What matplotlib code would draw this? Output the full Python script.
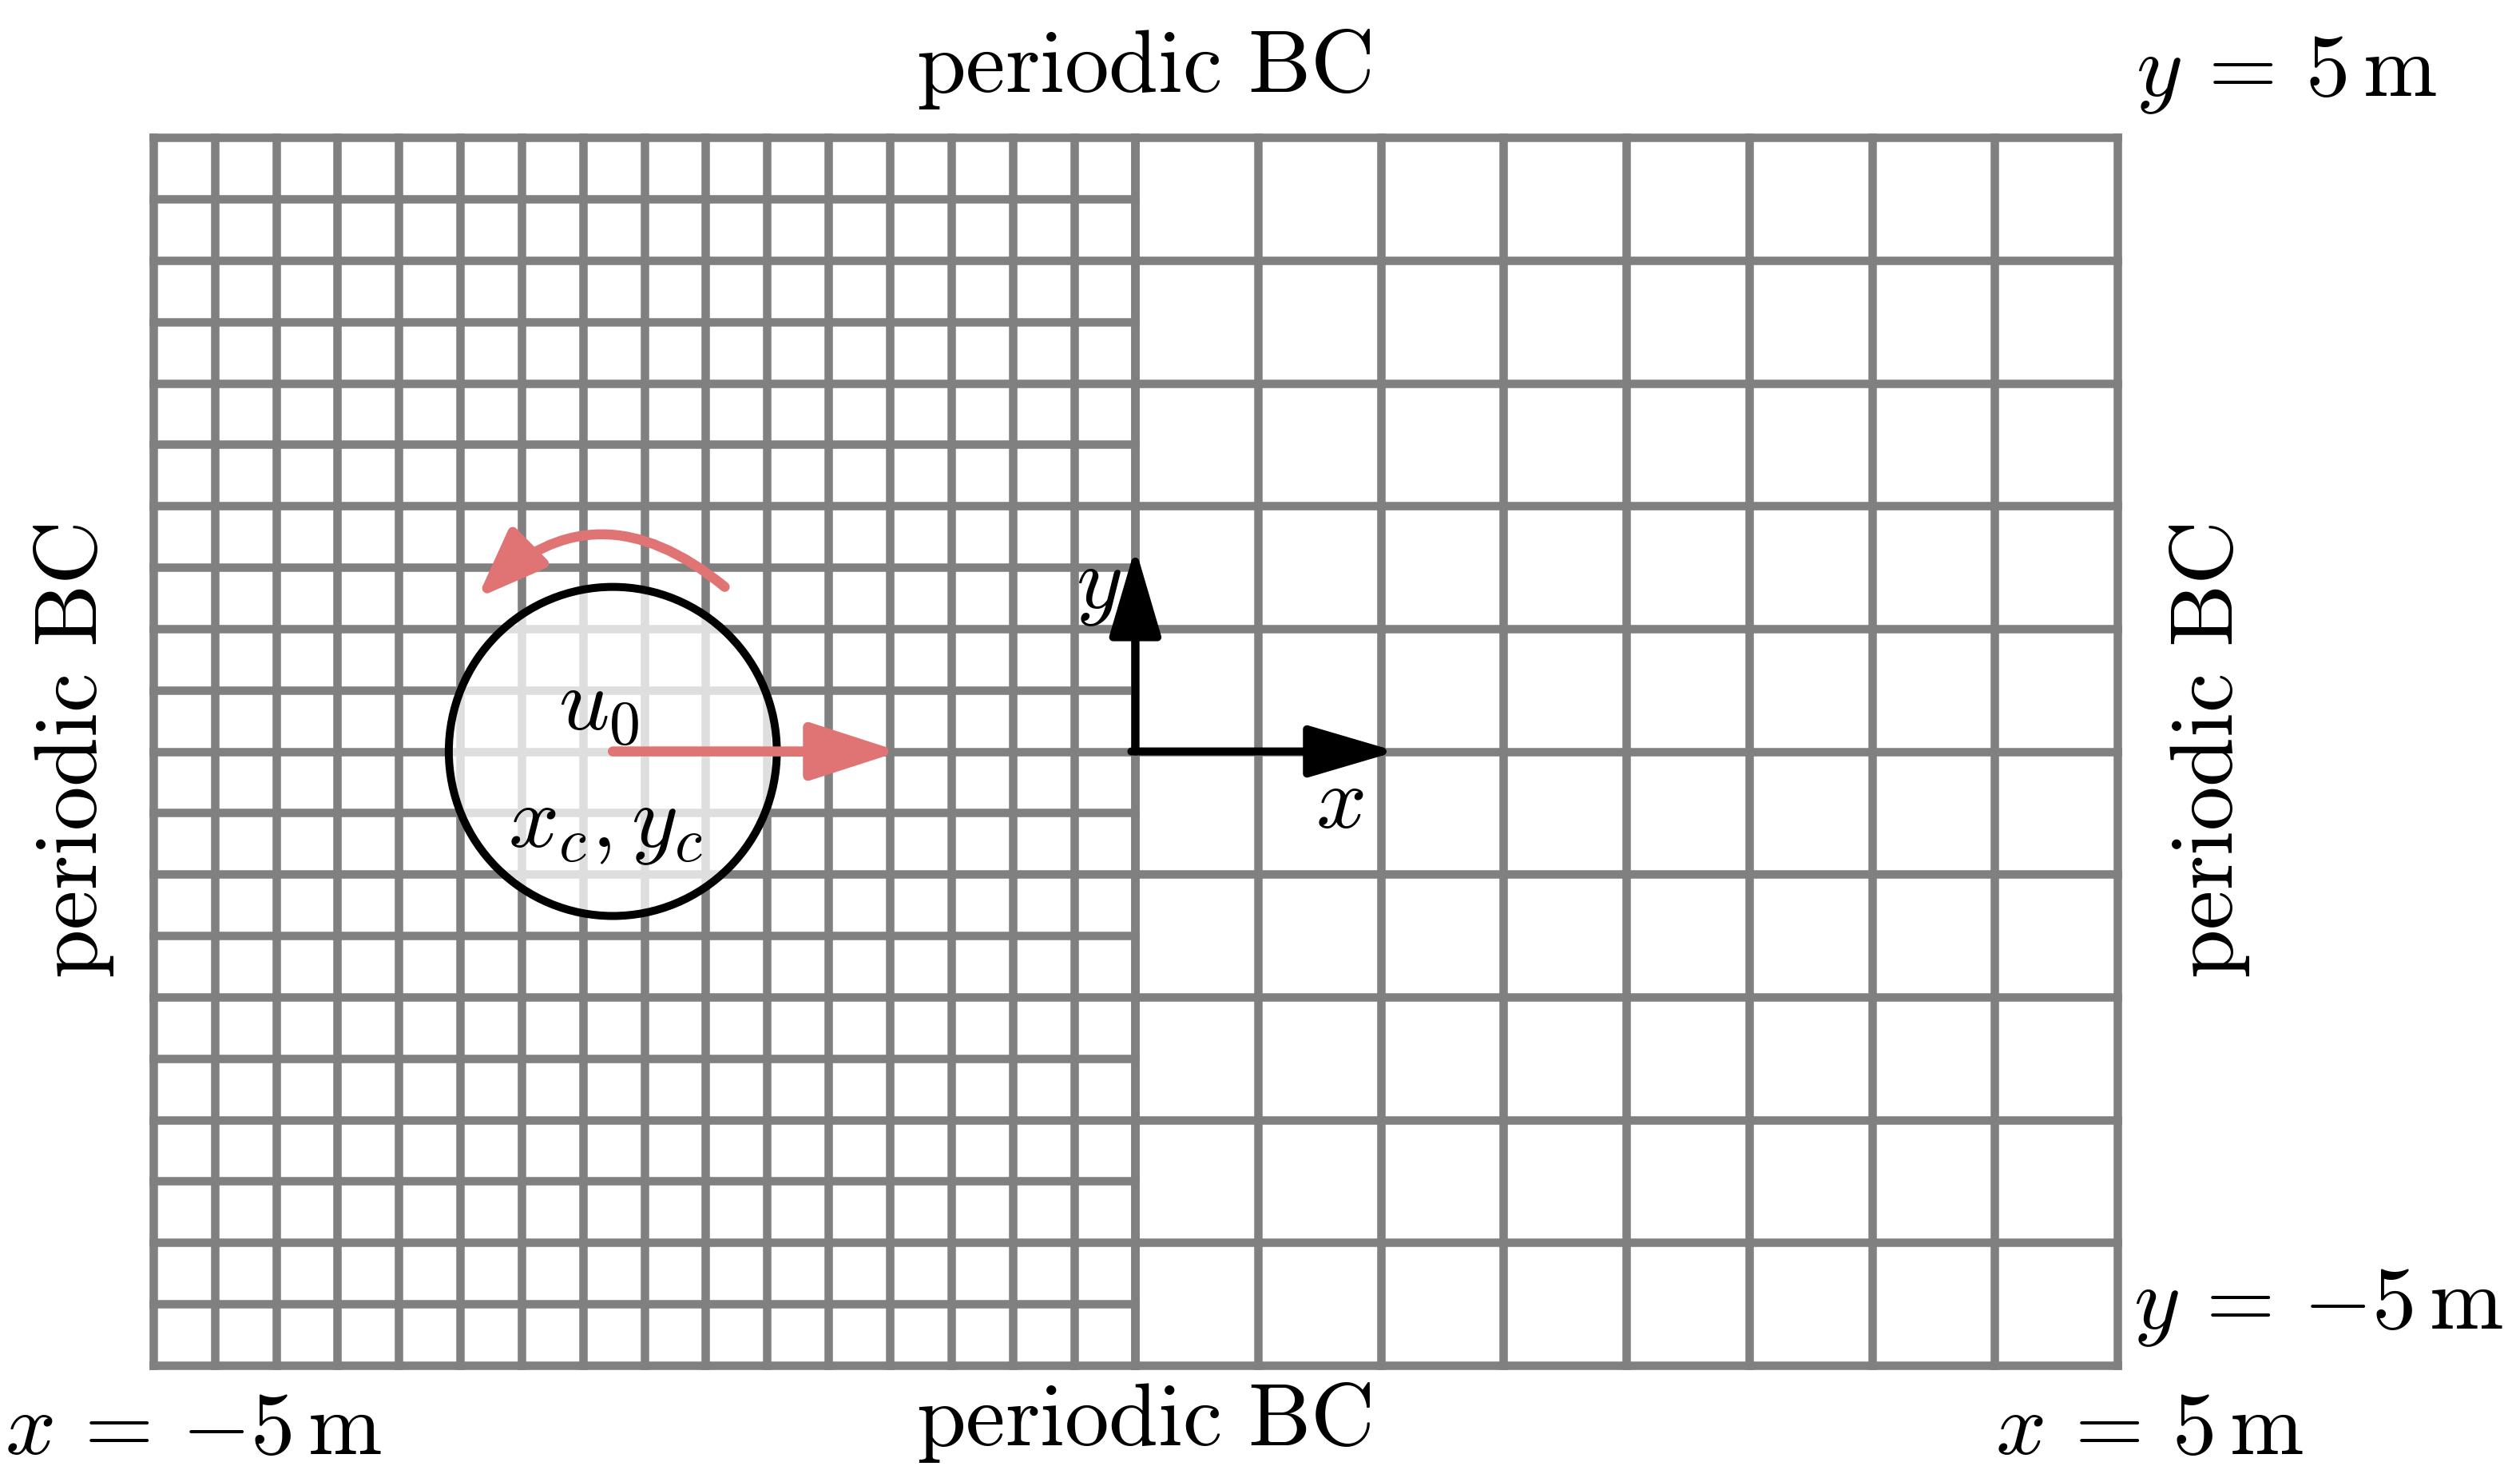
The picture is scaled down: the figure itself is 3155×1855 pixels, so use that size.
import matplotlib
matplotlib.use("Agg")
import matplotlib.pyplot as plt
from matplotlib.patches import Ellipse, FancyArrowPatch
import numpy as np

plt.rcParams['mathtext.fontset'] = 'cm'

fine_x = np.linspace(-5, 0, 17)
coarse_x = np.linspace(0, 5, 9)
fine_y = np.linspace(-5, 5, 21)
coarse_y = np.linspace(-5, 5, 11)
circle_center = (-2.66, 0.0)
u0_tip = -1.2

fig = plt.figure(figsize=(15.775, 9.275), dpi=200)
ax = fig.add_axes([0, 0, 1, 1])
ax.set_xlim(-5.78, 7.05)
ax.set_ylim(-5.95, 6.12)
ax.axis('off')

g = '#808080'; lw = 3.8
for x in fine_x:
    ax.plot([x, x], [-5, 5], color=g, lw=lw, solid_capstyle='projecting')
for x in coarse_x:
    ax.plot([x, x], [-5, 5], color=g, lw=lw, solid_capstyle='projecting')
for y in fine_y:
    ax.plot([-5, 0], [y, y], color=g, lw=lw, solid_capstyle='projecting')
for y in coarse_y:
    ax.plot([0, 5], [y, y], color=g, lw=lw, solid_capstyle='projecting')

cx, cy = circle_center
ax.add_patch(Ellipse((cx, cy), 1.67, 2.68, facecolor='white', alpha=0.75, edgecolor='none', zorder=3))
ax.add_patch(Ellipse((cx, cy), 1.67, 2.68, facecolor='none', edgecolor='black', lw=3.6, zorder=4))

red = '#e07474'
ax.add_patch(FancyArrowPatch((cx, cy), (u0_tip, cy), arrowstyle='-|>,head_length=1.7,head_width=0.55',
                             mutation_scale=20, color=red, lw=4.5, zorder=5, shrinkA=0, shrinkB=0))
ax.add_patch(FancyArrowPatch((-2.09, 1.34), (-3.35, 1.25), connectionstyle='arc3,rad=0.45',
                             arrowstyle='-|>,head_length=1.3,head_width=0.5',
                             mutation_scale=20, color=red, lw=4.5, zorder=5, shrinkA=0, shrinkB=0))

ax.add_patch(FancyArrowPatch((0, 0), (0, 1.66), arrowstyle='-|>,head_length=1.7,head_width=0.5',
                             mutation_scale=20, color='black', lw=3.6, zorder=5, shrinkA=0, shrinkB=0))
ax.add_patch(FancyArrowPatch((-0.02, 0), (1.33, 0), arrowstyle='-|>,head_length=1.7,head_width=0.5',
                             mutation_scale=20, color='black', lw=3.6, zorder=5, shrinkA=0, shrinkB=0))

fs = 40
def T(px, py, s, **kw):
    ax.text((px - 705) / 122, (465 - py) / 76, s, fontsize=fs, ha='center', va='center', zorder=6, **kw)

T(372, 437, r'$u_0$')
T(376, 510, r'$x_c,y_c$')
T(682, 362, r'$y$')
T(832, 497, r'$x$')
T(710, 42, r'$\mathrm{periodic\ BC}$')
T(710, 880, r'$\mathrm{periodic\ BC}$')
T(45, 465, r'$\mathrm{periodic\ BC}$', rotation=90)
T(1372, 465, r'$\mathrm{periodic\ BC}$', rotation=90)
T(1420, 45, r'$y\,=\,5\,\mathrm{m}$')
T(1440, 808, r'$y\,=\,{-5}\,\mathrm{m}$')
T(120, 885, r'$x\,=\,{-5}\,\mathrm{m}$')
T(1335, 885, r'$x\,=\,5\,\mathrm{m}$')

fig.savefig('out.png', dpi=200)
